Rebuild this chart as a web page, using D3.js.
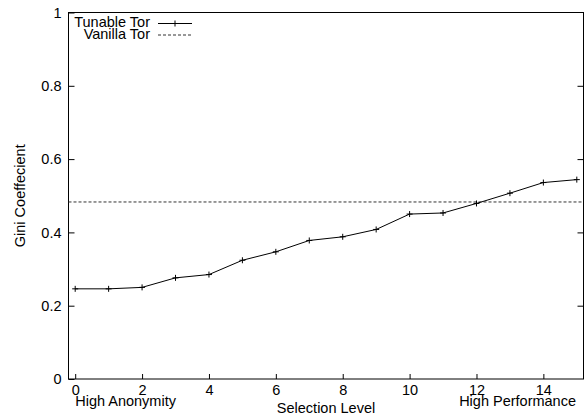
<!DOCTYPE html>
<html>
<head>
<meta charset="utf-8">
<script src="https://cdn.jsdelivr.net/npm/d3@7"></script>
<style>
  html, body { margin: 0; padding: 0; background: #fff; }
  svg { display: block; }
  text { font-family: "Liberation Sans", Arial, Helvetica, sans-serif; font-size: 14.5px; fill: #000; }
</style>
</head>
<body>
<svg id="chart" width="585" height="418"></svg>
<script>
// Selection levels and the Gini coefficient measured at each one
const levels = [0, 1, 2, 3, 4, 5, 6, 7, 8, 9, 10, 11, 12, 13, 14, 15];
const tunableGini = [0.246, 0.246, 0.250, 0.276, 0.285, 0.324, 0.347, 0.378, 0.388, 0.408, 0.450, 0.453, 0.479, 0.507, 0.536, 0.544];
const vanillaGini = 0.483;
const xTicks = [0, 2, 4, 6, 8, 10, 12, 14];
const yTicks = [0, 0.2, 0.4, 0.6, 0.8, 1];
const seriesNames = ["Tunable Tor", "Vanilla Tor"];

const svg = d3.select("#chart");
const plotLeft = 68.5, plotRight = 583.5, plotTop = 12.5, plotBottom = 379;

const x = d3.scaleLinear().domain([-0.2, 15.2]).range([plotLeft, plotRight]);
const y = d3.scaleLinear().domain([0, 1]).range([plotBottom, plotTop]);

// Frame
svg.append("rect")
  .attr("x", plotLeft).attr("y", plotTop)
  .attr("width", plotRight - plotLeft).attr("height", plotBottom - plotTop)
  .attr("fill", "none").attr("stroke", "#000").attr("stroke-width", 1);

// Left axis with inward ticks
const yAxis = d3.axisLeft(y).tickValues(yTicks).tickSizeInner(-6).tickSizeOuter(0).tickPadding(7)
  .tickFormat(d => d3.format("")(d));
const gy = svg.append("g").attr("transform", `translate(${plotLeft},0)`).call(yAxis);
gy.select(".domain").remove();
gy.selectAll("text").attr("font-size", null).attr("font-family", null);

// Mirrored ticks on the right edge
const gyr = svg.append("g").attr("transform", `translate(${plotRight},0)`)
  .call(d3.axisRight(y).tickValues(yTicks.filter(v => v > 0 && v < 1)).tickSizeInner(-6).tickSizeOuter(0).tickFormat(""));
gyr.select(".domain").remove();

// Bottom axis with inward ticks
const xAxis = d3.axisBottom(x).tickValues(xTicks).tickSizeInner(-5).tickSizeOuter(0).tickPadding(6);
const gx = svg.append("g").attr("transform", `translate(0,${plotBottom})`).call(xAxis);
gx.select(".domain").remove();
gx.selectAll("text").attr("font-size", null).attr("font-family", null);
svg.selectAll(".tick line").attr("stroke", "#000");

// Axis titles and end annotations
svg.append("text").attr("x", x(0)).attr("y", 405.5).text("High Anonymity");
svg.append("text").attr("x", 576).attr("y", 405.5).attr("text-anchor", "end").text("High Performance");
svg.append("text").attr("x", (plotLeft + plotRight) / 2).attr("y", 413).attr("text-anchor", "middle").text("Selection Level");
svg.append("text")
  .attr("transform", `translate(25,${(plotTop + plotBottom) / 2}) rotate(-90)`)
  .attr("text-anchor", "middle").text("Gini Coeffecient");

// Vanilla Tor reference line
svg.append("line")
  .attr("x1", plotLeft).attr("x2", plotRight)
  .attr("y1", y(vanillaGini)).attr("y2", y(vanillaGini))
  .attr("stroke", "#333").attr("stroke-width", 1).attr("stroke-dasharray", "3,2");

// Tunable Tor series
const line = d3.line().x((d, i) => x(levels[i])).y(d => y(d));
svg.append("path").datum(tunableGini)
  .attr("d", line).attr("fill", "none").attr("stroke", "#000").attr("stroke-width", 1);

const plus = (g, cx, cy, r) => {
  g.append("path")
    .attr("d", `M${cx - r},${cy}H${cx + r}M${cx},${cy - r}V${cy + r}`)
    .attr("stroke", "#000").attr("stroke-width", 1).attr("fill", "none");
};
const marks = svg.append("g");
tunableGini.forEach((v, i) => plus(marks, x(levels[i]), y(v), 3));

// Legend
const legend = svg.append("g");
const legendRows = [
  { name: seriesNames[0], ty: 27, ly: 23.5, dash: null, color: "#000", marker: true },
  { name: seriesNames[1], ty: 38.5, ly: 35, dash: "3,2", color: "#333", marker: false }
];
legendRows.forEach(r => {
  legend.append("text").attr("x", 150).attr("y", r.ty).attr("text-anchor", "end").text(r.name);
  legend.append("line").attr("x1", 158).attr("x2", 192).attr("y1", r.ly).attr("y2", r.ly)
    .attr("stroke", r.color).attr("stroke-width", 1).attr("stroke-dasharray", r.dash);
  if (r.marker) plus(legend, 175, r.ly, 3);
});
</script>
</body>
</html>
